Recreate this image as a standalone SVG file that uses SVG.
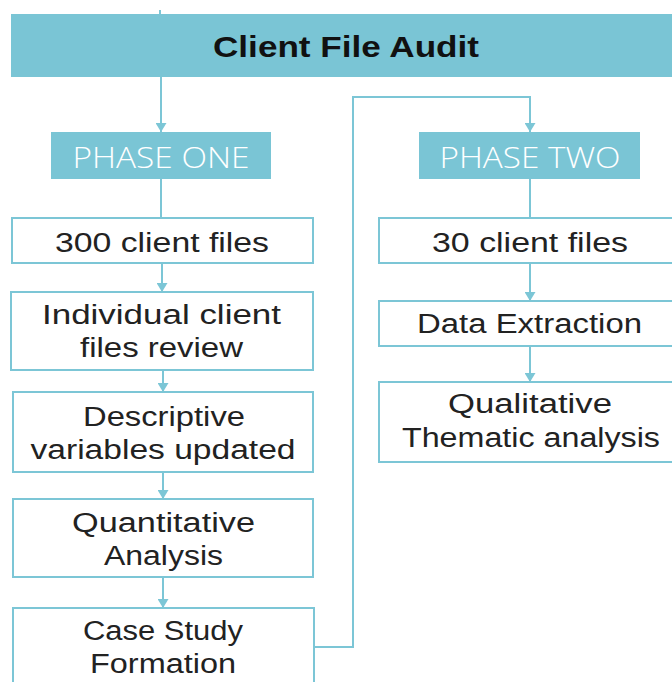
<svg xmlns="http://www.w3.org/2000/svg" width="672" height="682" viewBox="0 0 672 682">
<style>
.hdr{fill:#7AC5D5;}
.box{fill:#ffffff;stroke:#7CC6D6;stroke-width:2;}
.t{font-family:"Liberation Sans",Arial,sans-serif;font-weight:normal;font-size:27px;fill:#222;text-anchor:middle;}
.ph{font-family:"Open Sans","Liberation Sans",sans-serif;font-weight:300;font-size:29px;fill:#ffffff;text-anchor:middle;}
.title{font-family:"Liberation Sans",Arial,sans-serif;font-weight:bold;font-size:30px;fill:#111;text-anchor:middle;}
.c{fill:none;stroke:#7CC6D6;stroke-width:2;}
</style>
<defs>
<marker id="ah" viewBox="0 0 9 11" refX="9" refY="5.5" markerWidth="9" markerHeight="11" markerUnits="userSpaceOnUse" orient="auto">
<path d="M0,0 L9,5.5 L0,11 z" fill="#7CC6D6"/>
</marker>
</defs>
<rect width="672" height="682" fill="#ffffff"/>
<g id="connectors">
<line class="c" x1="160" y1="10" x2="160" y2="15"/>
<line class="c" x1="161" y1="77" x2="161" y2="132" marker-end="url(#ah)"/>
<line class="c" x1="161" y1="179" x2="161" y2="218"/>
<line class="c" x1="162" y1="263" x2="162" y2="292" marker-end="url(#ah)"/>
<line class="c" x1="163" y1="370" x2="163" y2="392" marker-end="url(#ah)"/>
<line class="c" x1="163" y1="472" x2="163" y2="499" marker-end="url(#ah)"/>
<line class="c" x1="163" y1="577" x2="163" y2="608" marker-end="url(#ah)"/>
<path class="c" d="M315,647 H353 V97 H530 V132" marker-end="url(#ah)"/>
<line class="c" x1="530" y1="179" x2="530" y2="218"/>
<line class="c" x1="530" y1="263" x2="530" y2="301" marker-end="url(#ah)"/>
<line class="c" x1="530" y1="346" x2="530" y2="382" marker-end="url(#ah)"/>
</g>
<g id="title">
<rect class="hdr" x="11" y="14" width="672" height="63"/>
<text class="title" x="346" y="57" textLength="266" lengthAdjust="spacingAndGlyphs">Client File Audit</text>
</g>
<g id="phase-one">
<rect class="hdr" x="51" y="132" width="220" height="47"/>
<text class="ph" x="161" y="168" textLength="177" lengthAdjust="spacingAndGlyphs">PHASE ONE</text>
</g>
<g id="phase-two">
<rect class="hdr" x="419" y="132" width="221" height="47"/>
<text class="ph" x="530" y="168" textLength="181" lengthAdjust="spacingAndGlyphs">PHASE TWO</text>
</g>
<g id="n300">
<rect class="box" x="12" y="218" width="301" height="45"/>
<text class="t" x="162" y="252" textLength="214" lengthAdjust="spacingAndGlyphs">300 client files</text>
</g>
<g id="individual">
<rect class="box" x="11" y="292" width="302" height="78"/>
<text class="t" x="161.5" y="324" textLength="239" lengthAdjust="spacingAndGlyphs">Individual client</text>
<text class="t" x="161.5" y="357" textLength="163" lengthAdjust="spacingAndGlyphs">files review</text>
</g>
<g id="descriptive">
<rect class="box" x="13" y="392" width="300" height="80"/>
<text class="t" x="164" y="426" textLength="162" lengthAdjust="spacingAndGlyphs">Descriptive</text>
<text class="t" x="163" y="459" textLength="265" lengthAdjust="spacingAndGlyphs">variables updated</text>
</g>
<g id="quantitative">
<rect class="box" x="13" y="499" width="300" height="78"/>
<text class="t" x="163.5" y="532" textLength="183" lengthAdjust="spacingAndGlyphs">Quantitative</text>
<text class="t" x="163.5" y="565" textLength="119" lengthAdjust="spacingAndGlyphs">Analysis</text>
</g>
<g id="case-study">
<rect class="box" x="13" y="608" width="301" height="90"/>
<text class="t" x="163" y="640" textLength="160" lengthAdjust="spacingAndGlyphs">Case Study</text>
<text class="t" x="163" y="673" textLength="146" lengthAdjust="spacingAndGlyphs">Formation</text>
</g>
<g id="n30">
<rect class="box" x="379" y="218" width="302" height="45"/>
<text class="t" x="530" y="252" textLength="196" lengthAdjust="spacingAndGlyphs">30 client files</text>
</g>
<g id="data-extraction">
<rect class="box" x="379" y="301" width="302" height="45"/>
<text class="t" x="529.5" y="333" textLength="225" lengthAdjust="spacingAndGlyphs">Data Extraction</text>
</g>
<g id="qualitative">
<rect class="box" x="379" y="382" width="302" height="80"/>
<text class="t" x="530" y="413" textLength="164" lengthAdjust="spacingAndGlyphs">Qualitative</text>
<text class="t" x="531" y="447" textLength="258" lengthAdjust="spacingAndGlyphs">Thematic analysis</text>
</g>
</svg>
